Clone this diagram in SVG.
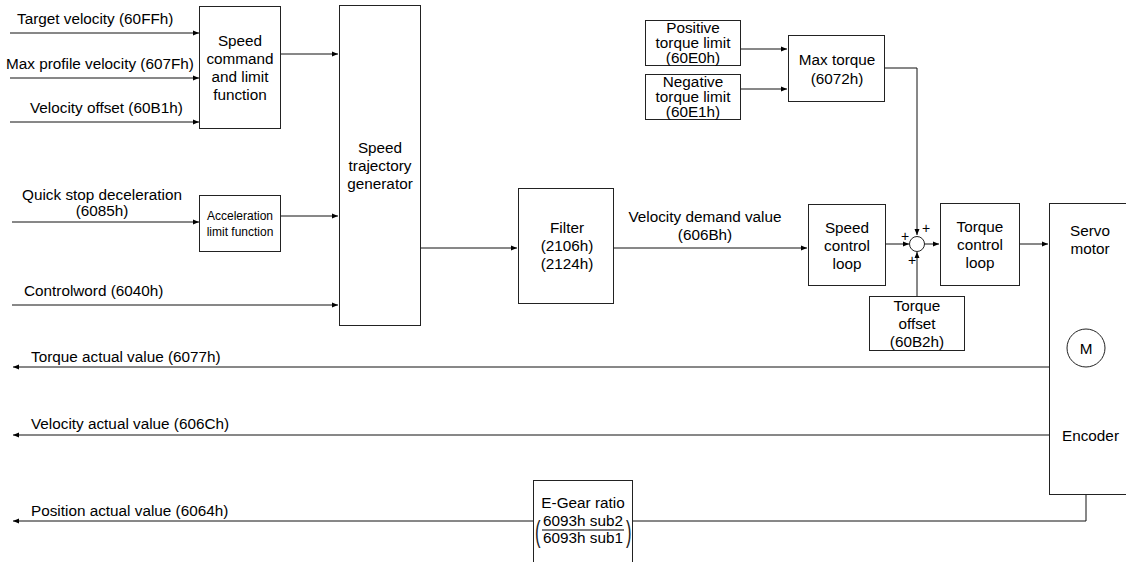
<svg xmlns="http://www.w3.org/2000/svg" width="1126" height="562" viewBox="0 0 1126 562">
<style>
text{font-family:"Liberation Sans",Arial,sans-serif;font-size:15.3px;fill:#000}
.c{text-anchor:middle}
.s{font-size:12px}
.p{font-size:14px}
.box{fill:#fff;stroke:#222;stroke-width:1}
.ln{fill:none;stroke:#111;stroke-width:1}
</style>
<defs>
<marker id="arr" markerWidth="8" markerHeight="8" refX="6" refY="4" orient="auto" markerUnits="userSpaceOnUse">
<path d="M0,1.5 L6,4 L0,6.5 Z" fill="#000"/>
</marker>
</defs>
<rect width="1126" height="562" fill="#fff"/>

<g id="connectors">
<line class="ln" x1="10" y1="33" x2="199" y2="33" marker-end="url(#arr)"/>
<line class="ln" x1="10" y1="78" x2="199" y2="78" marker-end="url(#arr)"/>
<line class="ln" x1="10" y1="122" x2="199" y2="122" marker-end="url(#arr)"/>
<line class="ln" x1="281" y1="54" x2="338" y2="54" marker-end="url(#arr)"/>
<line class="ln" x1="12" y1="222" x2="199" y2="222" marker-end="url(#arr)"/>
<line class="ln" x1="281" y1="216" x2="338" y2="216" marker-end="url(#arr)"/>
<line class="ln" x1="12" y1="305" x2="338" y2="305" marker-end="url(#arr)"/>
<line class="ln" x1="420" y1="248" x2="517" y2="248" marker-end="url(#arr)"/>
<line class="ln" x1="614" y1="248" x2="807" y2="248" marker-end="url(#arr)"/>
<line class="ln" x1="741" y1="49" x2="787" y2="49" marker-end="url(#arr)"/>
<line class="ln" x1="741" y1="89" x2="787" y2="89" marker-end="url(#arr)"/>
<polyline class="ln" points="885,68 917,68 917,235" marker-end="url(#arr)"/>
<line class="ln" x1="886" y1="244" x2="909" y2="244" marker-end="url(#arr)"/>
<line class="ln" x1="917" y1="296" x2="917" y2="252" marker-end="url(#arr)"/>
<line class="ln" x1="924" y1="244" x2="939" y2="244" marker-end="url(#arr)"/>
<line class="ln" x1="1020" y1="244" x2="1048" y2="244" marker-end="url(#arr)"/>
<line class="ln" x1="1049" y1="367" x2="13" y2="367" marker-end="url(#arr)"/>
<line class="ln" x1="1049" y1="435" x2="13" y2="435" marker-end="url(#arr)"/>
<polyline class="ln" points="1086,495 1086,521 13,521" marker-end="url(#arr)"/>
<text x="905" y="241" class="c p">+</text>
<text x="926" y="233" class="c p">+</text>
<text x="912" y="265" class="c p">+</text>
</g>

<g id="labels">
<text x="17" y="24">Target velocity (60FFh)</text>
<text x="6" y="69">Max profile velocity (607Fh)</text>
<text x="30" y="113">Velocity offset (60B1h)</text>
<text x="102" y="200" class="c">Quick stop deceleration</text>
<text x="102" y="216" class="c">(6085h)</text>
<text x="24" y="296">Controlword (6040h)</text>
<text x="705" y="222" class="c">Velocity demand value</text>
<text x="705" y="240" class="c">(606Bh)</text>
<text x="31" y="362">Torque actual value (6077h)</text>
<text x="31" y="429">Velocity actual value (606Ch)</text>
<text x="31" y="516">Position actual value (6064h)</text>
</g>

<g id="speed-command">
<rect class="box" x="199.5" y="6.5" width="81" height="122"/>
<text x="240" y="46" class="c">Speed</text>
<text x="240" y="64" class="c">command</text>
<text x="240" y="82" class="c">and limit</text>
<text x="240" y="100" class="c">function</text>
</g>

<g id="acceleration-limit">
<rect class="box" x="199.5" y="195.5" width="81" height="56"/>
<text x="240" y="220" class="c s">Acceleration</text>
<text x="240" y="236" class="c s">limit function</text>
</g>

<g id="speed-trajectory">
<rect class="box" x="339.5" y="5.5" width="81" height="320"/>
<text x="380" y="153" class="c">Speed</text>
<text x="380" y="171" class="c">trajectory</text>
<text x="380" y="189" class="c">generator</text>
</g>

<g id="filter">
<rect class="box" x="518.5" y="188.5" width="95" height="115"/>
<text x="567" y="233" class="c">Filter</text>
<text x="567" y="251" class="c">(2106h)</text>
<text x="567" y="269" class="c">(2124h)</text>
</g>

<g id="positive-torque-limit">
<rect class="box" x="645.5" y="20.5" width="95" height="45"/>
<text x="693" y="33" class="c">Positive</text>
<text x="693" y="48" class="c">torque limit</text>
<text x="693" y="63" class="c">(60E0h)</text>
</g>

<g id="negative-torque-limit">
<rect class="box" x="645.5" y="74.5" width="95" height="45"/>
<text x="693" y="87" class="c">Negative</text>
<text x="693" y="102" class="c">torque limit</text>
<text x="693" y="117" class="c">(60E1h)</text>
</g>

<g id="max-torque">
<rect class="box" x="788.5" y="35.5" width="96" height="66"/>
<text x="837" y="65" class="c">Max torque</text>
<text x="837" y="84" class="c">(6072h)</text>
</g>

<g id="speed-control-loop">
<rect class="box" x="808.5" y="204.5" width="77" height="81"/>
<text x="847" y="233" class="c">Speed</text>
<text x="847" y="251" class="c">control</text>
<text x="847" y="269" class="c">loop</text>
</g>

<g id="sum">
<circle cx="917" cy="244" r="7.5" fill="#fff" stroke="#222"/>
</g>

<g id="torque-offset">
<rect class="box" x="869.5" y="296.5" width="95" height="54"/>
<text x="917" y="311" class="c">Torque</text>
<text x="917" y="329" class="c">offset</text>
<text x="917" y="347" class="c">(60B2h)</text>
</g>

<g id="torque-control-loop">
<rect class="box" x="940.5" y="203.5" width="79" height="82"/>
<text x="980" y="232" class="c">Torque</text>
<text x="980" y="250" class="c">control</text>
<text x="980" y="268" class="c">loop</text>
</g>

<g id="servo-motor">
<rect class="box" x="1049.5" y="203.5" width="90" height="291"/>
<text x="1090" y="236" class="c">Servo</text>
<text x="1090" y="254" class="c">motor</text>
<circle cx="1086" cy="348" r="19" fill="#fff" stroke="#222"/>
<text x="1086" y="354" class="c">M</text>
<text x="1062" y="441">Encoder</text>
</g>

<g id="e-gear">
<rect class="box" x="533.5" y="480.5" width="99" height="90"/>
<text x="583" y="508" class="c">E-Gear ratio</text>
<text x="583" y="526" class="c">6093h sub2</text>
<line x1="542" y1="530" x2="624" y2="530" stroke="#000" stroke-width="1"/>
<text x="583" y="543" class="c">6093h sub1</text>
<text transform="translate(535,542) scale(0.55,1)" style="font-size:30px;fill:#222">(</text>
<text transform="translate(626,542) scale(0.55,1)" style="font-size:30px;fill:#222">)</text>
</g>
</svg>
